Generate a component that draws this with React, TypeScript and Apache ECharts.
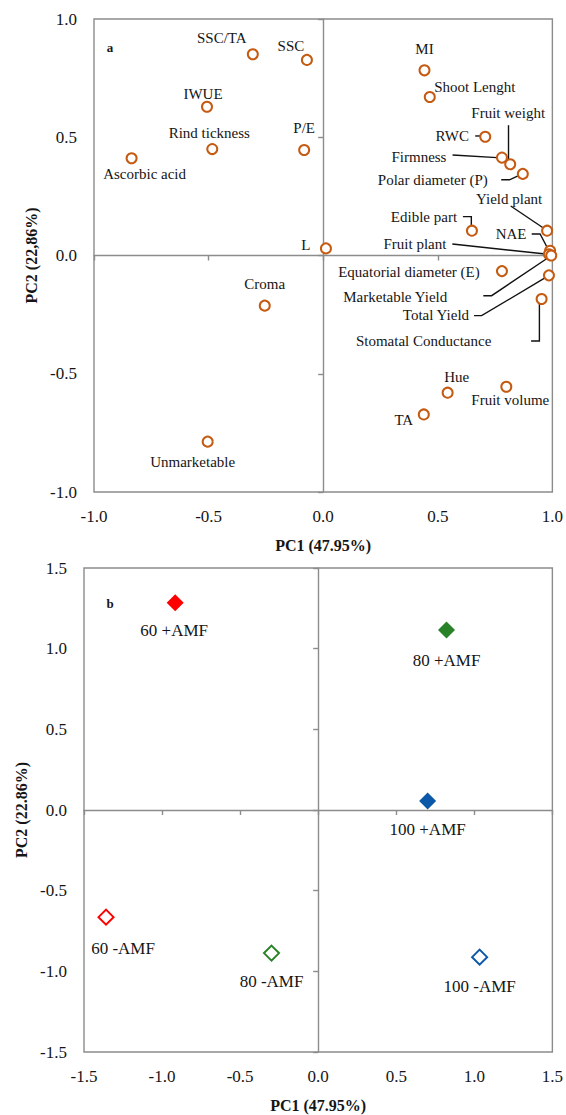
import React, { useEffect, useRef } from "react";
import * as echarts from "echarts";

// Variable loadings on the first two principal components (plot a)
const loadingNames = [
  "SSC/TA", "SSC", "IWUE", "Rind tickness", "Ascorbic acid", "P/E", "L", "MI",
  "Shoot Lenght", "RWC", "Firmness", "Fruit weight", "Polar diameter (P)",
  "Edible part", "Yield plant", "NAE", "Fruit plant", "Marketable Yield",
  "Equatorial diameter (E)", "Total Yield", "Stomatal Conductance", "Hue",
  "Fruit volume", "TA", "Croma", "Unmarketable",
];
const loadingPC1 = [
  -0.307, -0.071, -0.507, -0.484, -0.836, -0.083, 0.012, 0.442, 0.465, 0.707,
  0.78, 0.816, 0.871, 0.649, 0.977, 0.99, 0.985, 0.995, 0.78, 0.985, 0.953,
  0.543, 0.799, 0.439, -0.255, -0.504,
];
const loadingPC2 = [
  0.851, 0.827, 0.629, 0.45, 0.411, 0.446, 0.03, 0.783, 0.67, 0.502, 0.414,
  0.386, 0.345, 0.105, 0.105, 0.02, 0.005, 0.0, -0.066, -0.084, -0.184, -0.58,
  -0.555, -0.672, -0.212, -0.787,
];

// Treatment scores (plot b)
const treatmentNames = ["60 +AMF", "80 +AMF", "100 +AMF", "60 -AMF", "80 -AMF", "100 -AMF"];
const scorePC1 = [-0.916, 0.822, 0.701, -1.359, -0.299, 1.034];
const scorePC2 = [1.285, 1.115, 0.056, -0.664, -0.887, -0.912];

// Tick labels
const loadingTicks = ["-1.0", "-0.5", "0.0", "0.5", "1.0"];
const scoreTicks = ["-1.5", "-1.0", "-0.5", "0.0", "0.5", "1.0", "1.5"];

// Label placement (pixel offset of label centre from its marker)
const loadingLabelOffsets: Record<string, [number, number]> = {
  "SSC/TA": [-31, -16],
  SSC: [-16, -14],
  IWUE: [-4, -13],
  "Rind tickness": [-3, -16],
  "Ascorbic acid": [13, 16],
  "P/E": [0, -22],
  L: [-20, -3],
  MI: [0, -21],
  "Shoot Lenght": [45, -10],
  RWC: [-33, -1],
  Firmness: [-83, -1],
  "Fruit weight": [-2, -51],
  "Polar diameter (P)": [-90, 6],
  "Edible part": [-48, -14],
  "Yield plant": [-38, -32],
  NAE: [-39, -17],
  "Fruit plant": [-134, -10],
  "Marketable Yield": [-156, 41],
  "Equatorial diameter (E)": [-93, 1],
  "Total Yield": [-113, 40],
  "Stomatal Conductance": [-118, 42],
  Hue: [9, -16],
  "Fruit volume": [4, 13],
  TA: [-20, 6],
  Croma: [0, -22],
  Unmarketable: [-15, 20],
};

// Leader lines: vertices relative to the marker they point at
const leaderPaths: Record<string, [number, number][]> = {
  "Fruit weight": [[-1.7, -39], [-1.7, -5]],
  RWC: [[-10, -0.8], [-5, -0.8]],
  Firmness: [[-49.4, -2.6], [-4.9, 0]],
  "Polar diameter (P)": [[-21.6, 5.9], [-13.3, 5.9], [-4.8, 1.9]],
  "Edible part": [[-9, -14], [-0.6, -14], [-0.6, -5.2]],
  "Yield plant": [[-36.4, -24.7], [-3.7, -2.7]],
  NAE: [[-18.4, -16.8], [-10, -16.8], [-1.7, -1]],
  "Fruit plant": [[-96.6, -10.3], [-1, 0]],
  "Marketable Yield": [[-67.9, 40.2], [-59.6, 40.2], [-2, 1.5]],
  "Total Yield": [[-74.9, 40.3], [-67.3, 40.3], [-2.3, 1.6]],
  "Stomatal Conductance": [[-10.5, 42], [-2.2, 42], [-2.2, 4]],
};

const treatmentLabelOffsets: [number, number][] = [
  [-1, 28], [0, 30], [0, 29], [17, 31], [0, 28], [0, 29],
];
const treatmentColors = ["#ff0000", "#2a8228", "#0c58a8", "#ff0000", "#2a8228", "#0c58a8"];
const treatmentFilled = [true, true, true, false, false, false];

const SERIF = "'Liberation Serif', 'Times New Roman', serif";
const AXIS_GRAY = "#8c8c8c";
const TEXT = "#151515";
const MARKER = "#c55a11";

function tickFormatter(ticks: string[], min: number, step: number) {
  return (v: number) => {
    const i = Math.round((v - min) / step);
    return ticks[i] ?? v.toFixed(1);
  };
}

export default function App() {
  const ref = useRef<HTMLDivElement>(null);

  useEffect(() => {
    if (!ref.current) return;
    const chart = echarts.init(ref.current, undefined, { renderer: "svg" });

    const labelAxis = (min: number, max: number, ticks: string[], name: string, gridIndex: number, nameGap: number, isY: boolean) => ({
      gridIndex,
      type: "value",
      min,
      max,
      interval: 0.5,
      position: isY ? "left" : "bottom",
      name,
      nameLocation: "middle",
      nameGap,
      nameRotate: isY ? 90 : 0,
      nameTextStyle: { fontFamily: SERIF, fontSize: 16, fontWeight: "bold", color: TEXT },
      axisLine: { show: false, onZero: false },
      axisTick: { show: false },
      splitLine: { show: false },
      axisLabel: {
        show: true,
        fontFamily: SERIF,
        fontSize: 17,
        color: TEXT,
        margin: isY ? 17 : 16,
        formatter: tickFormatter(ticks, min, 0.5),
      },
    });

    const zeroAxis = (min: number, max: number, gridIndex: number, otherIndex: number, isY: boolean) => ({
      gridIndex,
      type: "value",
      min,
      max,
      interval: 0.5,
      position: isY ? "left" : "bottom",
      axisLine: { show: true, onZero: true, onZeroAxisIndex: otherIndex, lineStyle: { color: AXIS_GRAY, width: 1.4 } },
      axisTick: { show: true, length: 5, inside: false, lineStyle: { color: AXIS_GRAY, width: 1.4 } },
      axisLabel: { show: false },
      splitLine: { show: false },
    });

    const loadingData = loadingNames.map((n, i) => ({
      name: n,
      value: [loadingPC1[i], loadingPC2[i]],
      label: { offset: loadingLabelOffsets[n] },
    }));

    const scoreData = treatmentNames.map((n, i) => ({
      name: n,
      value: [scorePC1[i], scorePC2[i]],
      symbolSize: treatmentFilled[i] ? 17 : 15,
      itemStyle: treatmentFilled[i]
        ? { color: treatmentColors[i], borderWidth: 0, opacity: 1 }
        : { color: "#ffffff", borderColor: treatmentColors[i], borderWidth: 2, opacity: 1 },
      label: { offset: treatmentLabelOffsets[i] },
    }));

    chart.setOption({
      animation: false,
      backgroundColor: "#ffffff",
      grid: [
        { left: 94, top: 19, width: 460, height: 473, show: true, borderColor: AXIS_GRAY, borderWidth: 1.4, containLabel: false },
        { left: 84, top: 568, width: 472, height: 484, show: true, borderColor: AXIS_GRAY, borderWidth: 1.4, containLabel: false },
      ],
      xAxis: [
        labelAxis(-1, 1, loadingTicks, "PC1 (47.95%)", 0, 45, false),
        zeroAxis(-1, 1, 0, 0, false),
        labelAxis(-1.5, 1.5, scoreTicks, "PC1 (47.95%)", 1, 45, false),
        zeroAxis(-1.5, 1.5, 1, 2, false),
      ],
      yAxis: [
        labelAxis(-1, 1, loadingTicks, "PC2 (22,86%)", 0, 54, true),
        zeroAxis(-1, 1, 0, 0, true),
        labelAxis(-1.5, 1.5, scoreTicks, "PC2 (22.86%)", 1, 51, true),
        zeroAxis(-1.5, 1.5, 1, 2, true),
      ],
      series: [
        {
          type: "scatter",
          xAxisIndex: 0,
          yAxisIndex: 0,
          symbol: "circle",
          symbolSize: 10,
          itemStyle: { color: "#ffffff", borderColor: MARKER, borderWidth: 2, opacity: 1 },
          label: {
            show: true,
            position: "inside",
            formatter: "{b}",
            color: TEXT,
            fontFamily: SERIF,
            fontSize: 15,
            textBorderWidth: 0,
          },
          z: 5,
          data: loadingData,
        },
        {
          type: "scatter",
          xAxisIndex: 2,
          yAxisIndex: 2,
          symbol: "diamond",
          itemStyle: { opacity: 1 },
          label: {
            show: true,
            position: "inside",
            formatter: "{b}",
            color: TEXT,
            fontFamily: SERIF,
            fontSize: 17,
            textBorderWidth: 0,
          },
          z: 5,
          data: scoreData,
        },
      ],
    });

    // Leader lines from labels to their markers
    const lines = loadingNames
      .map((n, i) => ({ n, i }))
      .filter(({ n }) => leaderPaths[n])
      .map(({ n, i }) => {
        const p = chart.convertToPixel({ gridIndex: 0 }, [loadingPC1[i], loadingPC2[i]]) as number[];
        return {
          type: "polyline",
          silent: true,
          z: 4,
          shape: { points: leaderPaths[n].map(([dx, dy]) => [p[0] + dx, p[1] + dy]) },
          style: { stroke: "#111111", lineWidth: 1.4, fill: null },
        };
      });

    chart.setOption({
      graphic: [
        {
          type: "text",
          x: 110,
          y: 47,
          style: { text: "a", font: `bold 13px ${SERIF}`, fill: TEXT, textAlign: "center", textVerticalAlign: "middle" },
        },
        {
          type: "text",
          x: 110,
          y: 603,
          style: { text: "b", font: `bold 13px ${SERIF}`, fill: TEXT, textAlign: "center", textVerticalAlign: "middle" },
        },
        ...lines,
      ],
    });

    return () => chart.dispose();
  }, []);

  return (
    <div
      ref={ref}
      style={{ position: "absolute", left: 0, top: 0, width: 566, height: 1115, background: "#ffffff" }}
    />
  );
}
